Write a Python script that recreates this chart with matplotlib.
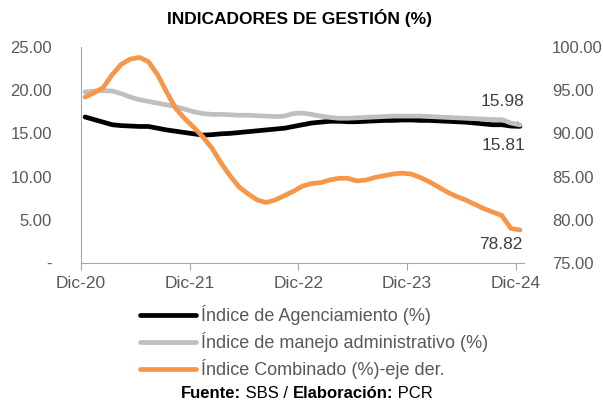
import matplotlib
matplotlib.use("Agg")
import matplotlib.pyplot as plt

plt.rcParams['font.family'] = ['Liberation Sans', 'DejaVu Sans']

# monthly data Dic-20 .. Dic-24 (49 points)
months = list(range(49))
agenciamiento = [16.9, 16.6, 16.3, 16.0, 15.9, 15.85, 15.8, 15.8, 15.6, 15.4,
                 15.25, 15.1, 14.95, 14.8, 14.85, 14.95, 15.0, 15.1, 15.2, 15.3,
                 15.4, 15.5, 15.6, 15.8, 16.0, 16.2, 16.3, 16.4, 16.4, 16.35,
                 16.35, 16.4, 16.45, 16.5, 16.5, 16.55, 16.55, 16.5, 16.5, 16.45,
                 16.4, 16.35, 16.3, 16.2, 16.1, 16.0, 16.0, 15.85, 15.81]
manejo = [19.8, 19.9, 19.95, 19.9, 19.6, 19.2, 18.9, 18.7, 18.5, 18.3,
          18.1, 17.8, 17.5, 17.3, 17.2, 17.2, 17.15, 17.1, 17.1, 17.05,
          17.0, 16.95, 17.0, 17.3, 17.35, 17.2, 17.0, 16.85, 16.75, 16.75,
          16.8, 16.85, 16.9, 16.95, 17.0, 17.0, 17.0, 17.0, 16.95, 16.9,
          16.85, 16.8, 16.75, 16.7, 16.65, 16.6, 16.6, 16.2, 15.98]
combinado = [94.2, 94.7, 95.3, 96.8, 98.0, 98.6, 98.8, 98.3, 96.8, 94.8,
             92.9, 91.7, 90.7, 89.6, 88.3, 86.6, 85.1, 83.8, 83.0, 82.3,
             82.0, 82.3, 82.8, 83.3, 83.9, 84.2, 84.3, 84.6, 84.8, 84.8,
             84.5, 84.6, 84.9, 85.1, 85.3, 85.4, 85.3, 84.9, 84.4, 83.8,
             83.2, 82.7, 82.3, 81.8, 81.3, 80.9, 80.5, 79.0, 78.82]
tick_months = [0, 12, 24, 36, 48]
tick_labels = ['Dic-20', 'Dic-21', 'Dic-22', 'Dic-23', 'Dic-24']
left_ticks = [0, 5, 10, 15, 20, 25]
left_labels = ['-', '5.00', '10.00', '15.00', '20.00', '25.00']
right_ticks = [75, 80, 85, 90, 95, 100]

offset = 0.45
xs = [m + offset for m in months]

TXT = '#595959'
fig = plt.figure(figsize=(6.03, 4.04), dpi=100)
ax = fig.add_axes([0.1343, 0.349, 0.7347, 0.5347])
ax2 = ax.twinx()

l1, = ax.plot(xs, agenciamiento, color='black', lw=3.4, solid_capstyle='round',
              solid_joinstyle='round', label='Índice de Agenciamiento (%)')
l2, = ax.plot(xs, manejo, color='#BFBFBF', lw=3.4, solid_capstyle='round',
              solid_joinstyle='round', label='Índice de manejo administrativo (%)')
l3, = ax2.plot(xs, combinado, color='#F79646', lw=3.4, solid_capstyle='round',
               solid_joinstyle='round', label='Índice Combinado (%)-eje der.')

ax.set_xlim(0, 48.9)
ax.set_ylim(0, 25)
ax2.set_ylim(75, 100)

ax.set_xticks(tick_months)
ax.set_xticklabels(tick_labels)
ax.set_yticks(left_ticks)
ax.set_yticklabels(left_labels)
ax2.set_yticks(right_ticks)
ax2.set_yticklabels([f'{v:.2f}' for v in right_ticks])

for a in (ax, ax2):
    for s in ('top', 'right'):
        a.spines[s].set_visible(False)
ax2.spines['left'].set_visible(False)
ax2.spines['bottom'].set_visible(False)
ax.spines['left'].set_color('#A6A6A6')
ax.spines['bottom'].set_color('#A6A6A6')
ax.tick_params(axis='x', colors='#A6A6A6', length=5, labelcolor=TXT, labelsize=12.5, pad=4)
ax.tick_params(axis='y', length=0, labelcolor=TXT, labelsize=12, pad=21)
ax2.tick_params(axis='y', length=0, labelcolor=TXT, labelsize=12, pad=20)

# end labels
ax.annotate(f'{manejo[-1]:.2f}', xy=(xs[-1], manejo[-1]), xytext=(xs[-1] + 0.5, 18.7),
            ha='right', va='center', fontsize=12.5, color='#404040',
            arrowprops=dict(arrowstyle='-', color='#A6A6A6', lw=1, shrinkA=9, shrinkB=2))
ax.text(xs[-1] + 0.6, 13.6, f'{agenciamiento[-1]:.2f}', ha='right', va='center',
        fontsize=12.5, color='#404040')
ax2.text(xs[-1] + 0.3, 77.1, f'{combinado[-1]:.2f}', ha='right', va='center',
         fontsize=12.5, color='#404040')

fig.text(0.497, 0.955, 'INDICADORES DE GESTIÓN (%)', ha='center', va='center',
         fontsize=12.5, fontweight='bold')

fig.legend(handles=[l1, l2, l3], loc='upper left', bbox_to_anchor=(0.233, 0.245),
           frameon=False, fontsize=13, labelcolor=TXT, handlelength=3.1,
           handletextpad=0.25, labelspacing=0.4, borderpad=0, borderaxespad=0)

# source line, mixed bold / regular pieces centred as a whole
pieces = [('Fuente:', 'bold'), (' SBS / ', 'normal'), ('Elaboración:', 'bold'), (' PCR', 'normal')]
renderer = fig.canvas.get_renderer()
texts = []
for s, w in pieces:
    texts.append(fig.text(0, 0.027, s, ha='left', va='center', fontsize=12, fontweight=w))
widths = [t.get_window_extent(renderer).width for t in texts]
x0 = 307 - sum(widths) / 2
for t, w in zip(texts, widths):
    t.set_x(x0 / 603)
    x0 += w

fig.savefig('out.png', dpi=100)
